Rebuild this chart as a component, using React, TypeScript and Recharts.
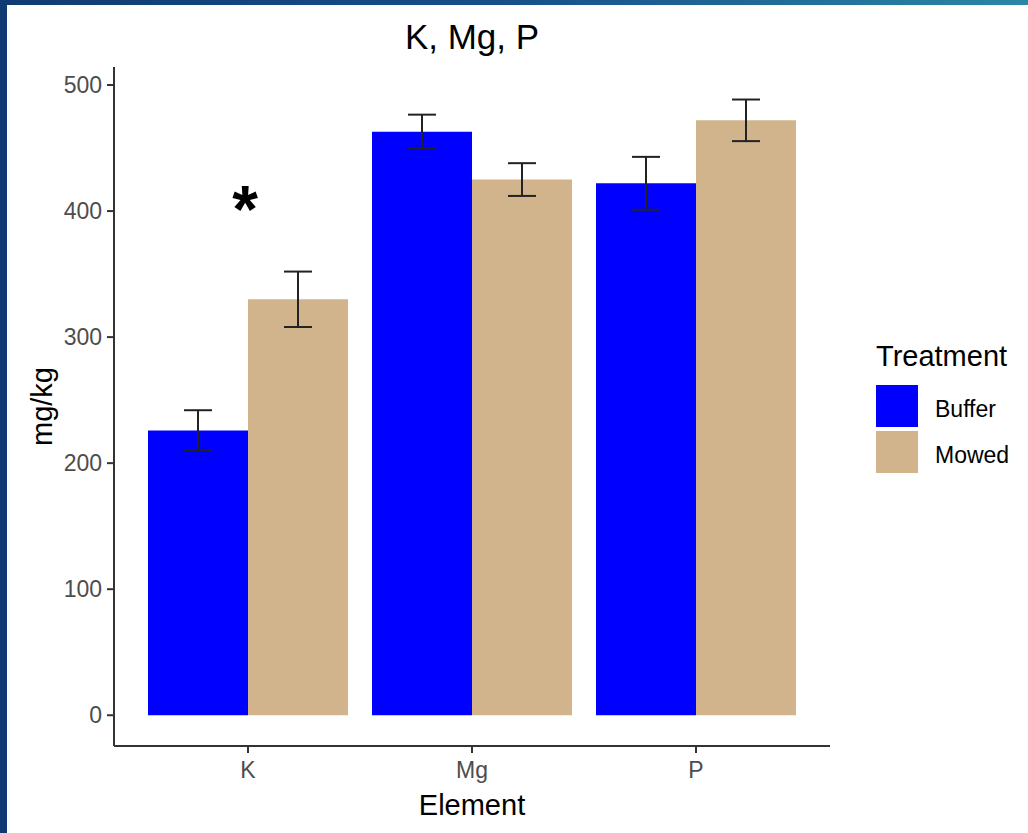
import React from 'react';
import { BarChart, Bar, XAxis, YAxis, ErrorBar, Legend, ReferenceDot } from 'recharts';

const FONT = '"Liberation Sans", Arial, sans-serif';

const elements = ['K', 'Mg', 'P'];
const bufferMean = [226, 463, 422];
const bufferSE = [16, 13.5, 21];
const mowedMean = [330, 425, 472];
const mowedSE = [22, 13, 16.5];
const yTicks = [0, 100, 200, 300, 400, 500];
const significance = [{ element: 'K', y: 402, label: '*' }];

const data = elements.map((e, i) => ({
  element: e,
  Buffer: bufferMean[i],
  bufferErr: bufferSE[i],
  Mowed: mowedMean[i],
  mowedErr: mowedSE[i],
}));

const renderLegend = (props: any) => {
  const { payload } = props;
  return (
    <div style={{ fontFamily: FONT }}>
      <div style={{ fontSize: 29, color: '#000', lineHeight: '34px', marginBottom: 10 }}>Treatment</div>
      {(payload || []).map((p: any) => (
        <div key={p.value} style={{ display: 'flex', alignItems: 'center', height: 46 }}>
          <div style={{ width: 42, height: 42, background: p.color }} />
          <span style={{ marginLeft: 17, fontSize: 23, color: '#000', position: 'relative', top: 3 }}>{p.value}</span>
        </div>
      ))}
    </div>
  );
};

export default function App() {
  return (
    <div
      style={{
        position: 'absolute',
        left: 0,
        top: 0,
        width: 1028,
        height: 833,
        overflow: 'hidden',
        background: 'linear-gradient(90deg, #0f3b72 0%, #17508a 50%, #2a87a6 100%)',
        fontFamily: FONT,
      }}
    >
      <div
        style={{
          position: 'absolute',
          left: 7,
          top: 5,
          width: 1021,
          height: 828,
          background: '#fff',
        }}
      />
      <div
        style={{
          position: 'absolute',
          left: 114,
          width: 716,
          top: 17,
          textAlign: 'center',
          fontSize: 35,
          lineHeight: '40px',
          color: '#000',
        }}
      >
        K, Mg, P
      </div>
      <div style={{ position: 'absolute', left: 0, top: 0 }}>
        <BarChart
          width={1028}
          height={833}
          data={data}
          margin={{ top: 67, right: 198, left: 54, bottom: 47 }}
          barCategoryGap={12}
          barGap={0}
          style={{ fontFamily: FONT }}
        >
          <XAxis
            dataKey="element"
            height={40}
            padding={{ left: 22, right: 22 }}
            axisLine={{ stroke: '#333', strokeWidth: 2 }}
            tickLine={{ stroke: '#333', strokeWidth: 2 }}
            tickSize={7}
            tickMargin={9}
            tick={{ fill: '#4D4D4D', fontSize: 23 }}
            label={{ value: 'Element', position: 'bottom', offset: 8, fontSize: 29, fill: '#000' }}
          />
          <YAxis
            width={60}
            type="number"
            domain={[-24.4, 514.3]}
            allowDataOverflow
            ticks={yTicks}
            axisLine={{ stroke: '#333', strokeWidth: 2 }}
            tickLine={{ stroke: '#333', strokeWidth: 2 }}
            tickSize={7}
            tickMargin={5}
            tick={{ fill: '#4D4D4D', fontSize: 23 }}
            label={{ value: 'mg/kg', angle: -90, position: 'left', offset: 12, textAnchor: 'middle', fontSize: 29, fill: '#000' }}
          />
          <Legend
            layout="vertical"
            align="center"
            verticalAlign="middle"
            content={renderLegend}
            wrapperStyle={{ position: 'absolute', left: 876, top: 339, width: 150 }}
          />
          <Bar dataKey="Buffer" fill="#0000FF" isAnimationActive={false}>
            <ErrorBar dataKey="bufferErr" width={14} stroke="#222" strokeWidth={2} isAnimationActive={false} />
          </Bar>
          <Bar dataKey="Mowed" fill="#D2B48C" isAnimationActive={false}>
            <ErrorBar dataKey="mowedErr" width={14} stroke="#222" strokeWidth={2} isAnimationActive={false} />
          </Bar>
          {significance.map((s) => (
            <ReferenceDot
              key={s.element}
              x={s.element}
              y={s.y}
              r={0}
              fill="none"
              stroke="none"
              label={{ value: s.label, position: 'center', fontSize: 66, fontWeight: 'bold', fill: '#000', dx: -3 }}
            />
          ))}
        </BarChart>
      </div>
    </div>
  );
}
